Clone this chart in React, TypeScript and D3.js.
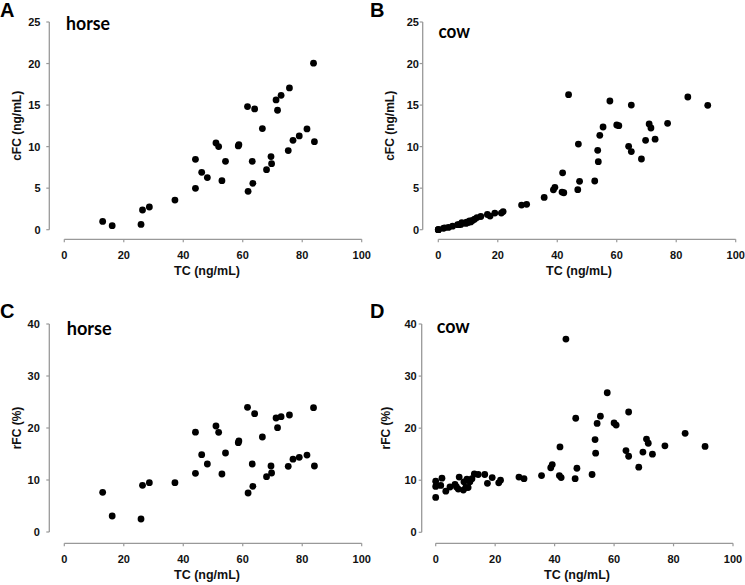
import React from "react";
import * as d3 from "d3";

// ---------- data ----------
const horseTC = [12.9, 16.1, 25.8, 26.3, 28.6, 37.2, 44.1, 44.1, 46.2, 48.1, 51.0, 51.9, 53.0, 54.2, 58.5, 58.7, 61.6, 61.8, 63.2, 63.4, 64.0, 66.6, 68.0, 69.5, 69.7, 71.2, 71.7, 72.9, 75.3, 75.7, 76.9, 79.0, 81.6, 83.8, 84.1];
const horseCFC = [1.0, 0.48, 0.64, 2.37, 2.73, 3.57, 8.47, 4.98, 6.9, 6.27, 10.44, 10.0, 5.9, 8.23, 10.08, 10.24, 14.82, 4.62, 8.23, 5.58, 14.54, 12.17, 7.23, 8.8, 7.95, 15.62, 14.38, 16.18, 9.52, 17.07, 10.76, 11.29, 12.13, 20.04, 10.6];
const horseRFC = [7.63, 3.08, 2.5, 8.97, 9.49, 9.49, 19.2, 11.28, 14.87, 13.08, 20.38, 19.17, 11.15, 15.19, 17.18, 17.5, 23.97, 7.5, 13.08, 8.78, 22.76, 18.27, 10.64, 12.69, 11.35, 21.92, 20.06, 22.18, 12.63, 22.5, 14.0, 14.36, 14.8, 23.9, 12.69];

const cowTC = [0, 0, 0, 1.7, 2.1, 3.4, 4.8, 6.5, 7.0, 7.6, 7.9, 9.3, 9.5, 10.1, 10.5, 10.9, 11.5, 12.2, 13.0, 14.3, 16.5, 17.4, 19.0, 21.2, 21.8, 28.0, 29.7, 35.6, 38.7, 39.2, 41.6, 41.8, 42.2, 43.8, 46.9, 47.1, 47.5, 52.6, 53.6, 53.8, 54.3, 55.4, 57.7, 60.0, 60.7, 64.0, 64.9, 64.9, 68.3, 69.7, 70.9, 71.5, 72.9, 77.1, 83.9, 90.6];
const cowCFC = [0.0, 0.0, 0.0, 0.16, 0.22, 0.27, 0.42, 0.6, 0.61, 0.63, 0.84, 0.75, 0.92, 0.87, 1.07, 0.94, 1.12, 1.26, 1.46, 1.59, 1.83, 1.64, 2.0, 2.0, 2.18, 2.96, 3.06, 3.89, 4.8, 5.1, 4.53, 6.85, 4.45, 16.25, 4.82, 10.31, 5.82, 5.86, 9.55, 8.19, 11.36, 12.36, 15.49, 12.6, 12.52, 10.03, 9.4, 15.0, 8.51, 10.76, 12.72, 12.24, 10.9, 12.8, 15.97, 14.97];
const cowRFC = [9.8, 8.8, 6.7, 9.0, 10.4, 7.9, 8.7, 9.2, 8.7, 8.3, 10.6, 8.1, 9.7, 8.6, 10.2, 8.6, 9.7, 10.3, 11.2, 11.1, 11.1, 9.4, 10.5, 9.5, 10.0, 10.6, 10.3, 10.9, 12.4, 13.0, 10.9, 16.4, 10.5, 37.1, 10.3, 21.9, 12.3, 11.1, 17.8, 15.2, 20.9, 22.3, 26.8, 21.0, 20.6, 15.7, 14.6, 23.1, 12.5, 15.4, 17.9, 17.1, 15.0, 16.6, 19.0, 16.5];

const xTicks = [0, 20, 40, 60, 80, 100];
const cfcTicks = [0, 5, 10, 15, 20, 25];
const rfcTicks = [0, 10, 20, 30, 40];

const xTitle = "TC (ng/mL)";
const cfcTitle = "cFC (ng/mL)";
const rfcTitle = "rFC (%)";

// ---------- layout ----------
type Panel = {
  letter: string;
  letterX: number;
  letterY: number;
  species: string;
  spX: number;
  spY: number;
  spLen: number;
  xs: number[];
  ys: number[];
  yTicks: number[];
  yTitle: string;
  xRange: [number, number];
  yRange: [number, number];
  yAxisX: number;
  xAxisY: number;
  yLabelRight: number;
  yTitleX: number;
  xTitleX: number;
};

const panels: Panel[] = [
  { letter: "A", letterX: 0, letterY: 17, species: "horse", spX: 66, spY: 29.5, spLen: 44, xs: horseTC, ys: horseCFC, yTicks: cfcTicks, yTitle: cfcTitle, xRange: [64.3, 361.7], yRange: [229.7, 22], yAxisX: 49.3, xAxisY: 239.3, yLabelRight: 40.5, yTitleX: 20.5, xTitleX: 207 },
  { letter: "B", letterX: 370, letterY: 17, species: "cow", spX: 438.5, spY: 38.3, spLen: 31.5, xs: cowTC, ys: cowCFC, yTicks: cfcTicks, yTitle: cfcTitle, xRange: [438.3, 735.7], yRange: [229.7, 22], yAxisX: 422.7, xAxisY: 239.3, yLabelRight: 419, yTitleX: 393.5, xTitleX: 579 },
  { letter: "C", letterX: 0, letterY: 318, species: "horse", spX: 66.7, spY: 335, spLen: 45, xs: horseTC, ys: horseRFC, yTicks: rfcTicks, yTitle: rfcTitle, xRange: [64.3, 361.7], yRange: [532, 324], yAxisX: 49.3, xAxisY: 543.3, yLabelRight: 39.8, yTitleX: 20.5, xTitleX: 207 },
  { letter: "D", letterX: 370, letterY: 318, species: "cow", spX: 436.7, spY: 333.3, spLen: 33, xs: cowTC, ys: cowRFC, yTicks: rfcTicks, yTitle: rfcTitle, xRange: [435.7, 733], yRange: [532.3, 324], yAxisX: 421.7, xAxisY: 543.3, yLabelRight: 416.7, yTitleX: 389.5, xTitleX: 577 },
];

const AXIS = "#999999";
const FONT = "'Liberation Sans', Arial, sans-serif";

function PanelView({ p }: { p: Panel }) {
  const x = d3.scaleLinear().domain([0, 100]).range(p.xRange);
  const yMax = p.yTicks[p.yTicks.length - 1];
  const y = d3.scaleLinear().domain([0, yMax]).range(p.yRange);
  const pts = p.xs.map((v, i) => [v, p.ys[i]] as [number, number]);
  const yMid = (p.yRange[0] + p.yRange[1]) / 2;
  return (
    <g>
      <text x={p.letterX} y={p.letterY} fontFamily={FONT} fontWeight="bold" fontSize={20} fill="#000">
        {p.letter}
      </text>
      <text x={p.spX} y={p.spY} fontFamily="Lato, 'Open Sans', sans-serif" fontWeight="bold" fontSize={18.5} fill="#000" textLength={p.spLen} lengthAdjust="spacingAndGlyphs">
        {p.species}
      </text>
      {/* y axis */}
      <line x1={p.yAxisX} x2={p.yAxisX} y1={y(0)} y2={y(yMax)} stroke={AXIS} strokeWidth={1.3} />
      {p.yTicks.map((t) => (
        <g key={"y" + t}>
          <line x1={p.yAxisX - 3} x2={p.yAxisX} y1={y(t)} y2={y(t)} stroke={AXIS} strokeWidth={1.2} />
          <text x={p.yLabelRight} y={y(t) + 4} textAnchor="end" fontFamily={FONT} fontWeight="bold" fontSize={11} fill="#111">
            {t}
          </text>
        </g>
      ))}
      {/* x axis */}
      <line x1={x(0)} x2={x(100)} y1={p.xAxisY} y2={p.xAxisY} stroke={AXIS} strokeWidth={1.3} />
      {xTicks.map((t) => (
        <g key={"x" + t}>
          <line x1={x(t)} x2={x(t)} y1={p.xAxisY} y2={p.xAxisY + 3} stroke={AXIS} strokeWidth={1.2} />
          <text x={x(t)} y={p.xAxisY + 19.5} textAnchor="middle" fontFamily={FONT} fontWeight="bold" fontSize={11} fill="#111">
            {t}
          </text>
        </g>
      ))}
      <text x={p.xTitleX} y={p.xAxisY + 36} textAnchor="middle" fontFamily={FONT} fontWeight="bold" fontSize={12.5} fill="#111">
        {xTitle}
      </text>
      <text transform={`translate(${p.yTitleX},${yMid}) rotate(-90)`} textAnchor="middle" fontFamily={FONT} fontWeight="bold" fontSize={12} fill="#111">
        {p.yTitle}
      </text>
      {pts.map(([a, b], i) => (
        <circle key={i} cx={x(a)} cy={y(b)} r={3.4} fill="#000" />
      ))}
    </g>
  );
}

export default function App() {
  return (
    <svg width={745} height={585} style={{ position: "absolute", left: 0, top: 0, background: "#fff" }}>
      <rect width={745} height={585} fill="#fff" />
      {panels.map((p) => (
        <PanelView key={p.letter} p={p} />
      ))}
    </svg>
  );
}
